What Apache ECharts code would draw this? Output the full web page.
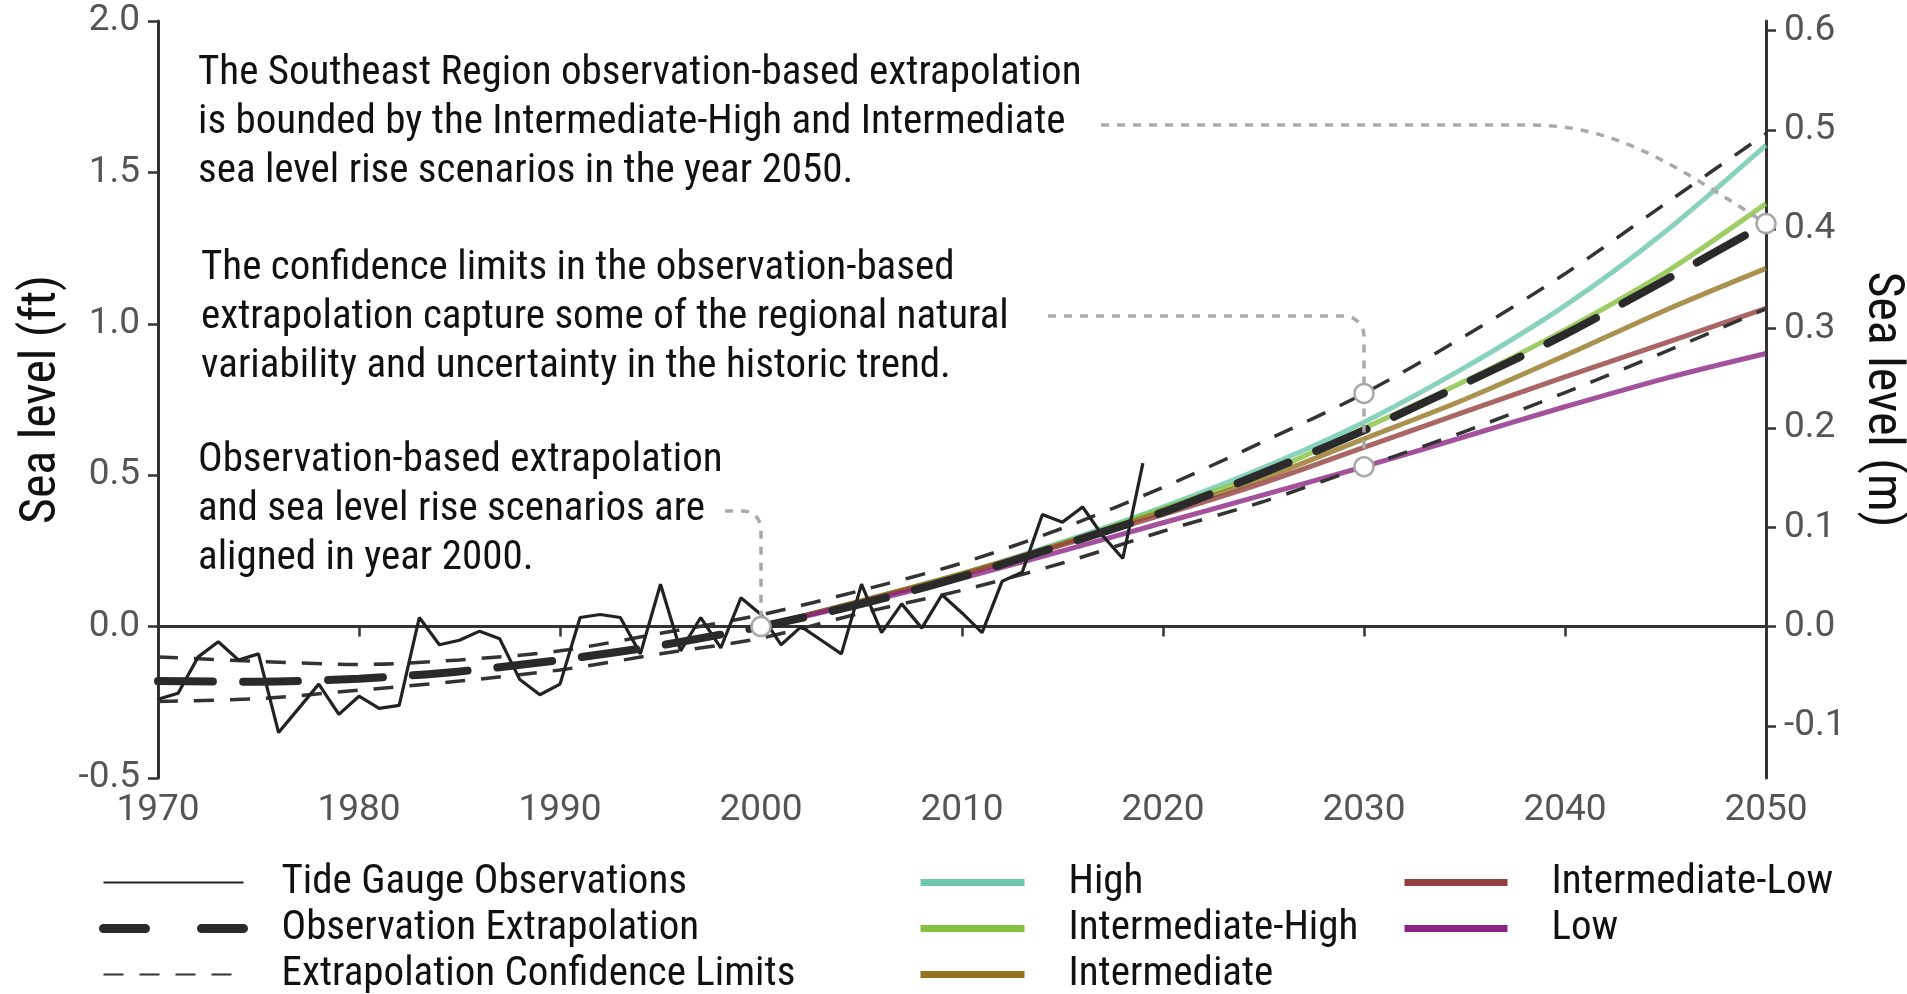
<!DOCTYPE html>
<html>
<head>
<meta charset="utf-8">
<script src="https://cdn.jsdelivr.net/npm/echarts@6/dist/echarts.min.js"></script>
<style>
  html, body { margin: 0; padding: 0; background: #fff; }
  #chart { width: 1907px; height: 994px; }
</style>
</head>
<body>
<div id="chart"></div>
<script>
// ---- Data (sea level in feet, relative to year 2000) ----
const obsYears = [1970, 1971, 1972, 1973, 1974, 1975, 1976, 1977, 1978, 1979,
                  1980, 1981, 1982, 1983, 1984, 1985, 1986, 1987, 1988, 1989,
                  1990, 1991, 1992, 1993, 1994, 1995, 1996, 1997, 1998, 1999,
                  2000, 2001, 2002, 2003, 2004, 2005, 2006, 2007, 2008, 2009,
                  2010, 2011, 2012, 2013, 2014, 2015, 2016, 2017, 2018, 2019];
const tideGauge = [-0.24, -0.22, -0.10, -0.05, -0.11, -0.09, -0.35, -0.27, -0.19, -0.29,
                   -0.23, -0.27, -0.26, 0.03, -0.06, -0.045, -0.015, -0.04, -0.175, -0.225,
                   -0.19, 0.03, 0.04, 0.03, -0.09, 0.14, -0.08, 0.03, -0.07, 0.095,
                   0.04, -0.06, 0.0, -0.045, -0.09, 0.14, -0.02, 0.075, -0.005, 0.105,
                   0.045, -0.02, 0.15, 0.18, 0.37, 0.345, 0.395, 0.30, 0.225, 0.54];

const fitYears = [1970, 1975, 1980, 1985, 1990, 1995, 2000, 2005, 2010,
                  2015, 2020, 2025, 2030, 2035, 2040, 2045, 2050];
const extrapolation = [-0.18, -0.182, -0.172, -0.148, -0.11, -0.062, 0.0, 0.075, 0.165,
                       0.27, 0.378, 0.508, 0.648, 0.803, 0.965, 1.145, 1.331];
const upperLimit = [-0.10, -0.115, -0.125, -0.11, -0.08, -0.022, 0.039, 0.12, 0.21,
                    0.325, 0.46, 0.611, 0.77, 0.959, 1.165, 1.397, 1.628];
const lowerLimit = [-0.247, -0.238, -0.21, -0.18, -0.143, -0.09, -0.038, 0.045, 0.12,
                    0.21, 0.315, 0.413, 0.528, 0.644, 0.773, 0.908, 1.05];

const scenarioYears = [2000, 2005, 2010, 2015, 2020, 2025, 2030, 2035, 2040, 2045, 2050];
const scenHigh    = [0, 0.085, 0.175, 0.28, 0.395, 0.525, 0.675, 0.855, 1.06, 1.305, 1.59];
const scenIntHigh = [0, 0.085, 0.175, 0.275, 0.39, 0.505, 0.655, 0.81, 0.98, 1.17, 1.397];
const scenInt     = [0, 0.085, 0.175, 0.275, 0.38, 0.49, 0.62, 0.75, 0.895, 1.045, 1.183];
const scenIntLow  = [0, 0.083, 0.17, 0.27, 0.37, 0.475, 0.592, 0.709, 0.825, 0.937, 1.051];
const scenLow     = [0, 0.078, 0.16, 0.25, 0.343, 0.435, 0.528, 0.627, 0.726, 0.82, 0.902];

// ---- Axis ticks ----
const yearTicks = [1970, 1980, 1990, 2000, 2010, 2020, 2030, 2040, 2050];
const feetTicks = [-0.5, 0.0, 0.5, 1.0, 1.5, 2.0];
const meterTicks = [-0.1, 0.0, 0.1, 0.2, 0.3, 0.4, 0.5, 0.6];

const FT_PER_M = 3.28084;
const COND = '"Roboto Condensed", "Liberation Sans Narrow", "DejaVu Sans Condensed", Roboto, sans-serif';
const TICK_FONT = 'Roboto, "Noto Sans", sans-serif';

const pairs = (xs, ys) => xs.map((x, i) => [x, ys[i]]);

const scenarios = [
  { name: 'High', color: '#6cc8ae', data: scenHigh },
  { name: 'Intermediate-High', color: '#86c140', data: scenIntHigh },
  { name: 'Intermediate', color: '#957523', data: scenInt },
  { name: 'Intermediate-Low', color: '#953f3f', data: scenIntLow },
  { name: 'Low', color: '#8c2485', data: scenLow }
];

const chart = echarts.init(document.getElementById('chart'));

const axisLineStyle = { color: '#333', width: 3 };
const tickStyle = { color: '#333', width: 2.5 };
const tickLabel = { fontSize: 37, fontFamily: TICK_FONT, color: '#555' };

const series = [];
scenarios.forEach(s => {
  series.push({
    name: s.name, type: 'line', data: pairs(scenarioYears, s.data),
    smooth: 0.3, showSymbol: false, symbol: 'none', z: 2,
    color: s.color,
    lineStyle: { color: s.color, width: 5, opacity: 0.8 }
  });
});
series.push({
  name: 'Extrapolation Confidence Limits', type: 'line', data: pairs(fitYears, upperLimit),
  smooth: 0.3, symbol: 'none', z: 3, color: '#333',
  lineStyle: { color: '#333', width: 3.5, type: [20, 16] }
});
series.push({
  name: 'Extrapolation Confidence Limits', type: 'line', data: pairs(fitYears, lowerLimit),
  smooth: 0.3, symbol: 'none', z: 3, color: '#333',
  lineStyle: { color: '#333', width: 3.5, type: [20, 16] }
});
series.push({
  name: 'Tide Gauge Observations', type: 'line', data: pairs(obsYears, tideGauge),
  symbol: 'none', z: 4, color: '#222',
  lineStyle: { color: '#222', width: 3.2 }
});
series.push({
  name: 'Observation Extrapolation', type: 'line', data: pairs(fitYears, extrapolation),
  smooth: 0.3, symbol: 'none', z: 5, color: '#2a2a2a',
  lineStyle: { color: '#2a2a2a', width: 8, type: [55, 30], cap: 'round' }
});

// anchor points of the callouts
const idx = y => fitYears.indexOf(y);
const callouts = [
  [2000, extrapolation[idx(2000)]],
  [2030, upperLimit[idx(2030)]],
  [2030, lowerLimit[idx(2030)]],
  [2050, extrapolation[idx(2050)]]
];
series.push({
  name: 'callouts', type: 'scatter', data: callouts, clip: false, z: 10,
  symbol: 'circle', symbolSize: 19, silent: true,
  itemStyle: { color: '#fff', borderColor: '#a9a9a9', borderWidth: 2.5, opacity: 1 }
});

const legendText = { fontSize: 41, fontFamily: COND, color: '#111', lineHeight: 40 };
const legendCommon = {
  orient: 'vertical', itemGap: 5, selectedMode: false, top: 862, height: 150, padding: 0,
  itemStyle: { opacity: 0 }
};

chart.setOption({
  animation: false,
  backgroundColor: '#fff',
  grid: { left: 158, right: 141, top: 21, bottom: 216, containLabel: false, outerBoundsMode: 'none' },
  xAxis: {
    type: 'value', min: 1970, max: 2050, interval: 10,
    axisLine: { show: true, lineStyle: axisLineStyle },
    axisTick: { show: true, length: 10, lineStyle: tickStyle, customValues: yearTicks },
    axisLabel: { ...tickLabel, margin: 14, customValues: yearTicks, formatter: v => String(v) },
    splitLine: { show: false }
  },
  yAxis: [
    {
      type: 'value', position: 'left', min: -0.5, max: 2.0, interval: 0.5,
      name: 'Sea level (ft)', nameLocation: 'middle', nameGap: 74, nameRotate: 90,
      nameTextStyle: { fontSize: 50, fontFamily: COND, color: '#111' },
      axisLine: { show: true, lineStyle: axisLineStyle },
      axisTick: { show: true, length: 10, lineStyle: tickStyle, customValues: feetTicks },
      axisLabel: { ...tickLabel, margin: 18, customValues: feetTicks, formatter: v => v.toFixed(1) },
      splitLine: { show: false }
    },
    {
      type: 'value', position: 'right', min: -0.5 / FT_PER_M, max: 2.0 / FT_PER_M,
      name: 'Sea level (m)', nameLocation: 'middle', nameGap: 72, nameRotate: -90,
      nameTextStyle: { fontSize: 50, fontFamily: COND, color: '#111' },
      axisLine: { show: true, lineStyle: axisLineStyle },
      axisTick: { show: true, length: 10, lineStyle: tickStyle, customValues: meterTicks },
      axisLabel: { ...tickLabel, margin: 18, customValues: meterTicks, formatter: v => v.toFixed(1) },
      splitLine: { show: false }
    }
  ],
  legend: [
    Object.assign({}, legendCommon, {
      left: 99, itemWidth: 140, itemHeight: 14,
      textStyle: Object.assign({}, legendText, { padding: [0, 0, 0, 33] }),
      data: [
        { name: 'Tide Gauge Observations' },
        { name: 'Observation Extrapolation', lineStyle: { type: [42, 56], width: 9, cap: 'round' } },
        { name: 'Extrapolation Confidence Limits' }
      ]
    }),
    Object.assign({}, legendCommon, {
      left: 917, itemWidth: 104, itemHeight: 14,
      textStyle: Object.assign({}, legendText, { padding: [0, 0, 0, 39] }),
      data: ['High', 'Intermediate-High', 'Intermediate'].map(n => ({ name: n, lineStyle: { opacity: 1, width: 7 } }))
    }),
    Object.assign({}, legendCommon, {
      left: 1401, itemWidth: 103, itemHeight: 14,
      textStyle: Object.assign({}, legendText, { padding: [0, 0, 0, 39] }),
      data: ['Intermediate-Low', 'Low'].map(n => ({ name: n, lineStyle: { opacity: 1, width: 7 } }))
    })
  ],
  series: series
});

// ---- Callout texts and leader lines ----
const px = p => chart.convertToPixel({ xAxisIndex: 0, yAxisIndex: 0 }, p);
const [p2000, p2030u, p2030l, p2050] = callouts.map(px);

function elbow(x0, y0, xv, yEnd, r) {
  const pts = [[x0, y0], [xv - r, y0]];
  for (let i = 1; i <= 10; i++) {
    const t = (i / 10) * Math.PI / 2;
    pts.push([xv - r + r * Math.sin(t), y0 + r - r * Math.cos(t)]);
  }
  pts.push([xv, yEnd]);
  return pts;
}
function cubic(p0, p1, p2, p3, n) {
  const pts = [];
  for (let i = 1; i <= n; i++) {
    const t = i / n, u = 1 - t;
    pts.push([
      u * u * u * p0[0] + 3 * u * u * t * p1[0] + 3 * u * t * t * p2[0] + t * t * t * p3[0],
      u * u * u * p0[1] + 3 * u * u * t * p1[1] + 3 * u * t * t * p2[1] + t * t * t * p3[1]
    ]);
  }
  return pts;
}

const leaderStyle = { stroke: '#a9a9a9', lineWidth: 3.5, lineDash: [8, 8], fill: null };
const leader1 = [[1101, 125], [1530, 125]].concat(
  cubic([1530, 125], [1615, 125], [1672, 163], p2050, 30));
const leader2 = elbow(1048, 316, p2030u[0], p2030l[1], 20);
const leader3 = elbow(725, 511, p2000[0], p2000[1], 18);

const textStyle = (t) => ({ text: t, fontSize: 41, fontFamily: COND, fill: '#111', lineHeight: 49 });

chart.setOption({
  graphic: [
    { type: 'polyline', z: 6, silent: true, shape: { points: leader1 }, style: leaderStyle },
    { type: 'polyline', z: 6, silent: true, shape: { points: leader2 }, style: leaderStyle },
    { type: 'polyline', z: 6, silent: true, shape: { points: leader3 }, style: leaderStyle },
    { type: 'text', z: 20, left: 198, top: 49,
      style: textStyle('The Southeast Region observation-based extrapolation\nis bounded by the Intermediate-High and Intermediate\nsea level rise scenarios in the year 2050.') },
    { type: 'text', z: 20, left: 201, top: 244,
      style: textStyle('The confidence limits in the observation-based\nextrapolation capture some of the regional natural\nvariability and uncertainty in the historic trend.') },
    { type: 'text', z: 20, left: 198, top: 436,
      style: textStyle('Observation-based extrapolation\nand sea level rise scenarios are\naligned in year 2000.') }
  ]
});
</script>
</body>
</html>
